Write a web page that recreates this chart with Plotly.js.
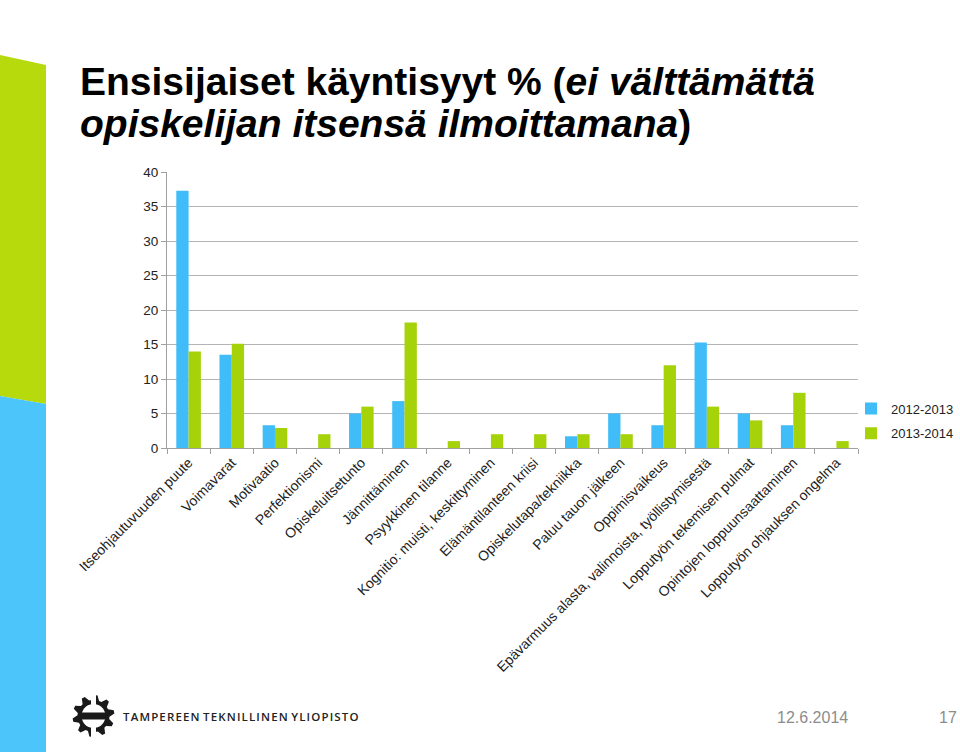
<!DOCTYPE html>
<html>
<head>
<meta charset="utf-8">
<script src="https://cdn.plot.ly/plotly-3.0.1.min.js"></script>
<style>html,body{margin:0;padding:0;background:#fff;}#chart{width:960px;height:752px;}</style>
</head>
<body>
<div id="chart"></div>
<script>
var categories = [
  "Itseohjautuvuuden puute",
  "Voimavarat",
  "Motivaatio",
  "Perfektionismi",
  "Opiskeluitsetunto",
  "Jännittäminen",
  "Psyykkinen tilanne",
  "Kognitio: muisti, keskittyminen",
  "Elämäntilanteen kriisi",
  "Opiskelutapa/tekniikka",
  "Paluu tauon jälkeen",
  "Oppimisvaikeus",
  "Epävarmuus alasta, valinnoista, työllistymisestä",
  "Lopputyön tekemisen pulmat",
  "Opintojen loppuunsaattaminen",
  "Lopputyön ohjauksen ongelma"
];
var series2012 = [37.3, 13.5, 3.3, 0, 5.0, 6.8, 0, 0, 0, 1.7, 5.0, 3.3, 15.3, 5.0, 3.3, 0];
var series2013 = [14.0, 15.1, 2.9, 2.0, 6.0, 18.2, 1.0, 2.0, 2.0, 2.0, 2.0, 12.0, 6.0, 4.0, 8.0, 1.0];
var seriesNames = ["2012-2013", "2013-2014"];
var yTicks = [0, 5, 10, 15, 20, 25, 30, 35, 40];

var W = 960, H = 752;
var L = 167, R = 858, T = 172, B = 448;
function px(x) { return (x - L) / (R - L); }
function py(y) { return (B - y) / (B - T); }

var blue = "#40bdf8", green = "#a6d20a";
var FONT = "Arial, 'Liberation Sans', sans-serif";

var traces = [
  {type: "bar", name: seriesNames[0], x: categories, y: series2012, marker: {color: blue}, legendgroup: "a"},
  {type: "bar", name: seriesNames[1], x: categories, y: series2013, marker: {color: green}, legendgroup: "b"}
];

function toPath(pts) {
  return "M" + pts.map(function (p) { return px(p[0]).toFixed(5) + "," + py(p[1]).toFixed(5); }).join(" L") + " Z";
}
function gearPath(cx, cy, rOut, rIn, teeth) {
  var pts = [];
  var n = teeth * 4;
  for (var i = 0; i < n; i++) {
    var a = (i / n) * 2 * Math.PI - Math.PI / 2 + Math.PI / n * 0.5;
    var r = (Math.floor(i / 2) % 2 === 0) ? rOut : rIn;
    pts.push([cx + r * Math.cos(a), cy + r * Math.sin(a)]);
  }
  return toPath(pts);
}
function circlePath(cx, cy, r) {
  var pts = [];
  for (var i = 0; i < 36; i++) {
    var a = i / 36 * 2 * Math.PI;
    pts.push([cx + r * Math.cos(a), cy + r * Math.sin(a)]);
  }
  return toPath(pts);
}
function rectPath(x0, y0, x1, y1) { return toPath([[x0, y0], [x1, y0], [x1, y1], [x0, y1]]); }

var gx = 93.5, gy = 716;
var noLine = {width: 0};
var shapes = [
  {type: "path", xref: "paper", yref: "paper", path: toPath([[0, 55], [46, 65], [46, 404], [0, 396]]), fillcolor: "#b6da0c", line: noLine, layer: "below"},
  {type: "path", xref: "paper", yref: "paper", path: toPath([[0, 396], [46, 404], [46, 752], [0, 752]]), fillcolor: "#4cc5fb", line: noLine, layer: "below"},
  {type: "path", xref: "paper", yref: "paper", path: gearPath(gx, gy, 21, 16, 10), fillcolor: "#1a1a1a", line: noLine},
  {type: "path", xref: "paper", yref: "paper", path: circlePath(gx, gy, 12), fillcolor: "#ffffff", line: noLine},
  {type: "path", xref: "paper", yref: "paper", path: rectPath(gx - 2.5, gy - 23, gx + 2.5, gy + 23), fillcolor: "#ffffff", line: noLine},
  {type: "path", xref: "paper", yref: "paper", path: rectPath(gx - 13, gy - 3.5, gx + 13, gy + 3.5), fillcolor: "#1a1a1a", line: noLine}
];

var annotations = [
  {xref: "paper", yref: "paper", x: px(78), y: py(81), xanchor: "left", yanchor: "middle", showarrow: false,
   text: "<b>Ensisijaiset käyntisyyt % (<i>ei välttämättä</i></b>",
   font: {family: FONT, size: 39, color: "#000"}},
  {xref: "paper", yref: "paper", x: px(78), y: py(124), xanchor: "left", yanchor: "middle", showarrow: false,
   text: "<b><i>opiskelijan itsensä ilmoittamana</i>)</b>",
   font: {family: FONT, size: 39, color: "#000"}},
  {xref: "paper", yref: "paper", x: px(121), y: py(716), xanchor: "left", yanchor: "middle", showarrow: false,
   text: "T A M P E R E E N   T E K N I L L I N E N   Y L I O P I S T O".replace(/ /g, "\u200A"),
   font: {family: "'Open Sans', Arial, sans-serif", size: 11.5, color: "#222", weight: 600}},
  {xref: "paper", yref: "paper", x: px(812), y: py(717), xanchor: "center", yanchor: "middle", showarrow: false,
   text: "12.6.2014", font: {family: FONT, size: 16, color: "#8c8c8c"}},
  {xref: "paper", yref: "paper", x: px(959), y: py(717), xanchor: "right", yanchor: "middle", showarrow: false,
   text: "17", font: {family: FONT, size: 16, color: "#8c8c8c"}}
];

var layout = {
  width: W, height: H,
  margin: {l: L, r: W - R, t: T, b: H - B, autoexpand: false},
  paper_bgcolor: "#ffffff", plot_bgcolor: "#ffffff",
  barmode: "group",
  bargap: 0.43,
  bargroupgap: 0,
  showlegend: true,
  legend: {xref: "container", yref: "container", x: 851 / W, y: 1 - 421 / H, xanchor: "left", yanchor: "middle",
    bgcolor: "rgba(0,0,0,0)",
    font: {family: FONT, size: 13, color: "#222"}, tracegroupgap: 5},
  xaxis: {
    type: "category",
    tickangle: -45,
    tickson: "boundaries",
    ticks: "outside", ticklen: 5, tickcolor: "#a0a0a0",
    showline: true, linecolor: "#a0a0a0", linewidth: 1,
    showgrid: false,
    tickfont: {family: FONT, size: 14, color: "#222"},
    automargin: false,
    fixedrange: true
  },
  yaxis: {
    range: [0, 40],
    tickvals: yTicks,
    ticks: "outside", ticklen: 5, tickcolor: "#a0a0a0",
    showline: true, linecolor: "#a0a0a0", linewidth: 1,
    showgrid: true, gridcolor: "#b4b4b4", gridwidth: 1,
    zeroline: false,
    tickfont: {family: FONT, size: 13.5, color: "#222"},
    automargin: false,
    fixedrange: true
  },
  shapes: shapes,
  annotations: annotations
};

Plotly.newPlot("chart", traces, layout, {displayModeBar: false, staticPlot: true});
</script>
</body>
</html>
